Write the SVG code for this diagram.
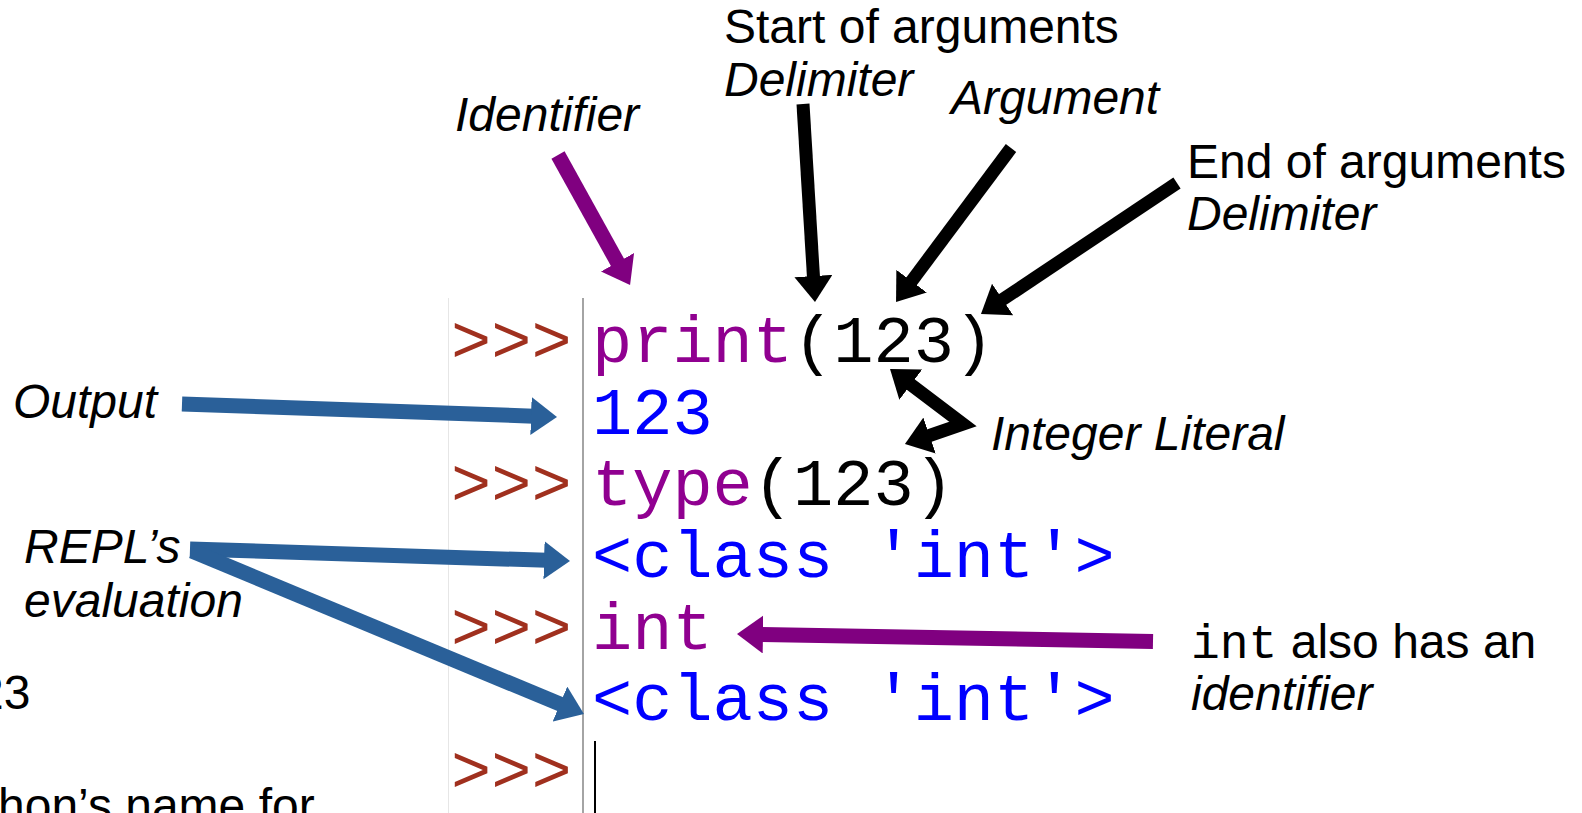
<svg xmlns="http://www.w3.org/2000/svg" width="1582" height="813" viewBox="0 0 1582 813">
  <style>
    .lbl { font-family: "Liberation Sans", Arial, sans-serif; font-size: 48px; fill: #000; }
    .it { font-style: italic; }
    .mono { font-family: "Liberation Mono", "Courier New", monospace; }
    .code { font-family: "Liberation Mono", "Courier New", monospace; font-size: 67px; }
    .prompt { fill: #a0301e; }
    .kw { fill: #900090; }
    .plain { fill: #000; }
    .out { fill: #0000ff; }
    .blk { fill: none; stroke: #000; stroke-width: 13; marker-end: url(#hBlack); }
    .blu { fill: none; stroke: #2a6099; stroke-width: 15; marker-end: url(#hBlue); }
    .pur { fill: none; stroke: #800080; stroke-width: 15; marker-end: url(#hPurple); }
  </style>
  <defs>
    <marker id="hBlack" viewBox="0 0 26 38" markerWidth="26" markerHeight="38" refX="3" refY="19" orient="auto-start-reverse" markerUnits="userSpaceOnUse">
      <path d="M0,0 L26,19 L0,38 z" fill="#000"/>
    </marker>
    <marker id="hBlue" viewBox="0 0 26 38" markerWidth="26" markerHeight="38" refX="3" refY="19" orient="auto" markerUnits="userSpaceOnUse">
      <path d="M0,0 L26,19 L0,38 z" fill="#2a6099"/>
    </marker>
    <marker id="hPurple" viewBox="0 0 26 38" markerWidth="26" markerHeight="38" refX="3" refY="19" orient="auto" markerUnits="userSpaceOnUse">
      <path d="M0,0 L26,19 L0,38 z" fill="#800080"/>
    </marker>
  </defs>
  <rect width="1582" height="813" fill="#fff"/>

  <g id="repl-panel">
    <line x1="448.5" y1="298" x2="448.5" y2="813" stroke="#e6e6e6" stroke-width="1"/>
    <line x1="583" y1="298" x2="583" y2="813" stroke="#a4a4a4" stroke-width="2"/>
    <line x1="595" y1="741" x2="595" y2="813" stroke="#000" stroke-width="2"/>
  </g>

  <g id="code-line1" class="code">
    <text x="451" y="362" class="prompt">&gt;&gt;&gt;</text>
    <text x="592" y="362"><tspan class="kw">print</tspan><tspan class="plain">(123)</tspan></text>
  </g>
  <g id="code-line2" class="code">
    <text x="592" y="434" class="out">123</text>
  </g>
  <g id="code-line3" class="code">
    <text x="451" y="505" class="prompt">&gt;&gt;&gt;</text>
    <text x="592" y="505"><tspan class="kw">type</tspan><tspan class="plain">(123)</tspan></text>
  </g>
  <g id="code-line4" class="code">
    <text x="592" y="577" class="out" xml:space="preserve">&lt;class 'int'&gt;</text>
  </g>
  <g id="code-line5" class="code">
    <text x="451" y="649" class="prompt">&gt;&gt;&gt;</text>
    <text x="592" y="649" class="kw">int</text>
  </g>
  <g id="code-line6" class="code">
    <text x="592" y="720" class="out" xml:space="preserve">&lt;class 'int'&gt;</text>
  </g>
  <g id="code-line7" class="code">
    <text x="451" y="792" class="prompt">&gt;&gt;&gt;</text>
  </g>

  <g id="label-start-delim" class="lbl">
    <text x="724" y="43">Start of arguments</text>
    <text x="724" y="96" class="it">Delimiter</text>
  </g>
  <g id="label-argument" class="lbl">
    <text x="951" y="114" class="it">Argument</text>
  </g>
  <g id="label-identifier" class="lbl">
    <text x="455" y="131" class="it">Identifier</text>
  </g>
  <g id="label-end-delim" class="lbl">
    <text x="1187" y="178">End of arguments</text>
    <text x="1187" y="230" class="it">Delimiter</text>
  </g>
  <g id="label-output" class="lbl">
    <text x="13" y="418" class="it">Output</text>
  </g>
  <g id="label-integer-literal" class="lbl">
    <text x="991" y="450" class="it">Integer Literal</text>
  </g>
  <g id="label-repl-eval" class="lbl">
    <text x="24" y="563" class="it">REPL’s</text>
    <text x="24" y="617" class="it">evaluation</text>
  </g>
  <g id="label-int-identifier" class="lbl">
    <text x="1191" y="658"><tspan class="mono">int</tspan> also has an</text>
    <text x="1191" y="710" class="it">identifier</text>
  </g>
  <g id="label-cut-left" class="lbl">
    <text x="-23" y="709">23</text>
    <text x="-2" y="822">hon’s name for</text>
  </g>

  <g id="connectors">
    <path class="pur" d="M558,155 L618.9,264.9"/>
    <path class="blk" d="M803,104 L813.6,279"/>
    <path class="blk" d="M1011,148 L909.8,283.6"/>
    <path class="blk" d="M1177,183 L1000.1,301.2"/>
    <path class="blk" style="marker-start:url(#hBlack)" stroke-linejoin="miter" stroke-width="12" d="M908.4,382.8 L963,424 L926.7,436.5"/>
    <path class="blu" d="M182,404 L534,416.2"/>
    <path class="blu" d="M190,549 L547,560.3"/>
    <path class="blu" d="M192,551 L562.7,705.2"/>
    <path class="pur" stroke-width="16" d="M1153,641.5 L760,634.4"/>
  </g>
</svg>
